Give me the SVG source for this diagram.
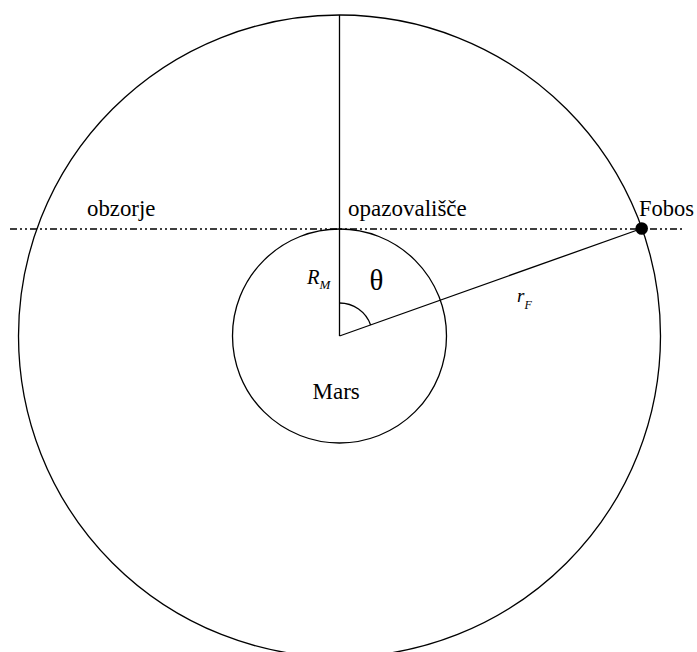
<svg xmlns="http://www.w3.org/2000/svg" width="697" height="652" viewBox="0 0 697 652">
<style>
.ln{fill:none;stroke:#000;stroke-width:1.3}
.dd{fill:none;stroke:#000;stroke-width:1.3;stroke-dasharray:7 3 2 3 2 3}
text{font-family:'Liberation Serif','DejaVu Serif',serif;fill:#000}
</style>
<rect width="697" height="652" fill="#fff"/>
<g id="orbit"><circle class="ln" cx="339.5" cy="336" r="321"/></g>
<g id="mars"><circle class="ln" cx="339.5" cy="336" r="107"/>
<text x="312.5" y="398.5" font-size="23">Mars</text></g>
<g id="connectors">
<line class="dd" x1="10" y1="229" x2="682" y2="229"/>
<line class="ln" x1="339.5" y1="15" x2="339.5" y2="336"/>
<line class="ln" x1="339.5" y1="336" x2="641.7" y2="228.5"/>
<path class="ln" d="M339.5 303 A33 33 0 0 1 370.6 325"/>
</g>
<g id="fobos"><circle cx="641.7" cy="228.5" r="6.3" fill="#000"/>
<text x="639" y="216" font-size="22.5">Fobos</text></g>
<g id="labels">
<text x="87" y="216" font-size="22.8">obzorje</text>
<text x="348" y="216" font-size="23">opazovališče</text>
<text x="307" y="284" font-size="20.5" font-style="italic">R<tspan font-size="13" dy="5">M</tspan></text>
<text x="369.5" y="290" font-size="29">θ</text>
<text x="517" y="302" font-size="19" font-style="italic">r<tspan font-size="12" dy="7">F</tspan></text>
</g>
</svg>
